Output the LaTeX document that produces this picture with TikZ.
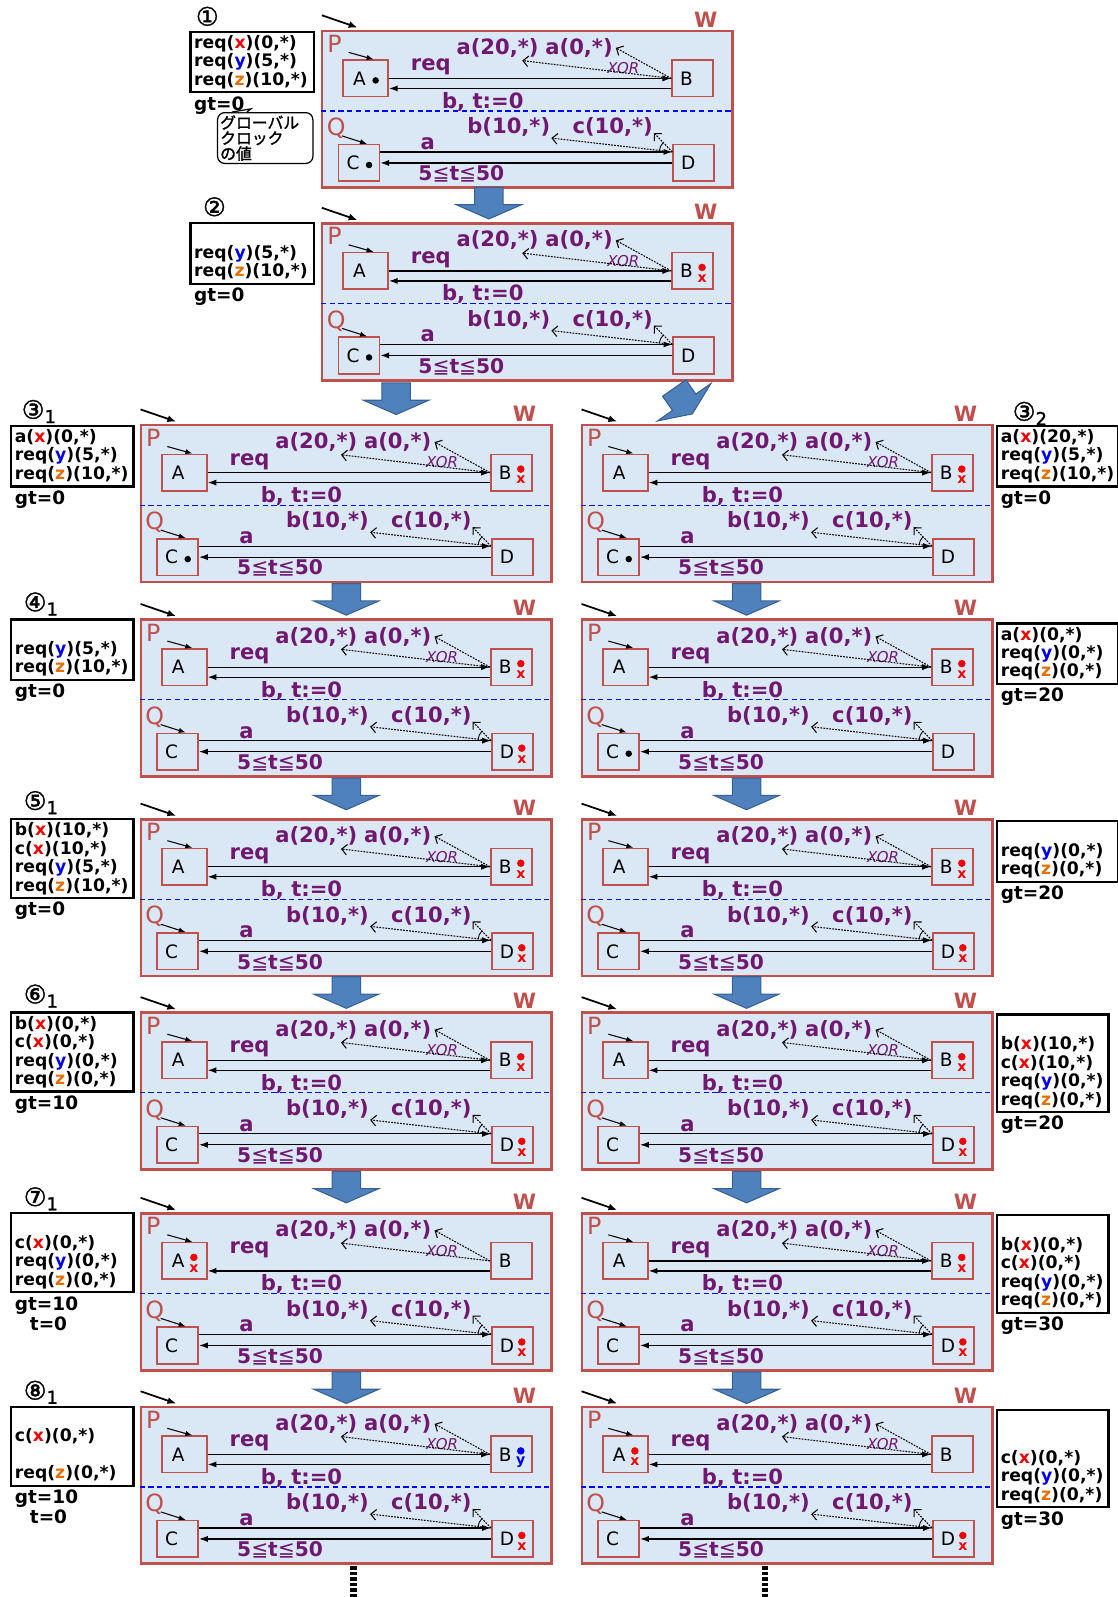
\documentclass[tikz,border=0pt]{standalone}
\usepackage{fontspec}
\setmainfont{DejaVu Sans}
\newfontfamily\cjkfont[FakeBold=1.5]{Noto Sans CJK JP}
\newfontfamily\numfont[FakeBold=1.5]{DejaVu Sans}
\usetikzlibrary{arrows.meta, positioning, calc}

\definecolor{wred}{RGB}{192,80,77}
\definecolor{panelfill}{RGB}{218,231,244}
\definecolor{lblpurple}{RGB}{112,24,112}
\definecolor{arrowblue}{RGB}{79,129,189}
\definecolor{arrowedge}{RGB}{56,96,146}
\definecolor{vx}{RGB}{240,0,0}
\definecolor{vy}{RGB}{0,0,230}
\definecolor{vz}{RGB}{230,110,0}

\newcommand{\vX}{\textcolor{vx}{x}}
\newcommand{\vY}{\textcolor{vy}{y}}
\newcommand{\vZ}{\textcolor{vz}{z}}
\newcommand{\blankln}{\phantom{(}}
\newcommand{\lesq}{{\mdseries ≦}}

% tokens inside a state box
\newcommand{\tokblk}[1]{\fill ([xshift=0.2cm,yshift=-0.04cm]#1.center) circle (0.065cm);}
\newcommand{\tokvar}[3]{%
  \fill[#2] ([xshift=0.19cm,yshift=0.07cm]#1.center) circle (0.075cm);
  \node[toklab, text=#2] (#1t) at ([xshift=0.19cm,yshift=-0.15cm]#1.center) {#3};}
\newcommand{\puttok}[2]{\if#2k\tokblk{#1}\fi\if#2x\tokvar{#1}{vx}{x}\fi\if#2y\tokvar{#1}{vy}{y}\fi}

% one W panel: x, y, name, tokens A B C D, req arrow
\newcommand{\wpanel}[8]{%
  \node[panel] (#3) at (#1,#2) {};
  \begin{scope}[shift={(#1,#2)}]
    % W, P, Q
    \node[wlab] (#3W) at (378,-10) {W};
    \node[pqlab] (#3P) at (13.5,14) {P};
    \node[pqlab] (#3Q) at (15,97) {Q};
    \coordinate (#3e0) at (1,-14);
    \coordinate (#3e1) at (36,-2);
    \draw[entry] (#3e0) -- (#3e1);
    % states
    \node[stbox, minimum width=0.9cm] (#3A) at (44,48) {A};
    \node[stbox] (#3B) at (365,48) {B};
    \node[stbox] (#3C) at (37.5,131) {C};
    \node[stbox] (#3D) at (366,131) {D};
    \coordinate (#3Ai) at ([xshift=0.16cm]#3A.north);
    \coordinate (#3Ao) at ([xshift=-0.5cm,yshift=0.14cm]#3Ai);
    \draw[entrys] (#3Ao) -- (#3Ai);
    \coordinate (#3Ci) at ([xshift=0.16cm]#3C.north);
    \coordinate (#3Co) at ([xshift=-0.5cm,yshift=0.16cm]#3Ci);
    \draw[entrys] (#3Co) -- (#3Ci);
    \draw[qline] (0,80) -- (403,80);
    % labels
    \node[msglab] (#3req) at (108,37) {req};
    \node[msglab] (#3bt) at (159,71) {b, t:=0};
    \node[msglab] (#3a20) at (173.5,18) {a(20,*)};
    \node[msglab] (#3a0) at (253.5,18) {a(0,*)};
    \node[xorlab] (#3xor) at (297,38) {XOR};
    \node[msglab] (#3a) at (105,112) {a};
    \node[msglab] (#3b10) at (184.5,96) {b(10,*)};
    \node[msglab] (#3c10) at (286.5,96) {c(10,*)};
    \node[msglab, font=\bfseries\fontsize{11.5}{12}\selectfont] (#3t) at (138,142) {5\lesq t\lesq 50};
    % P transitions
    \ifnum#8=1 \draw[msg] (#3A.east) -- (#3B.west); \fi
    \draw[msg] ([yshift=-0.2cm]#3B.west) -- ([yshift=-0.2cm]#3A.east);
    \draw[choice] (#3B.west) -- ([xshift=-0.35cm,yshift=-0.04cm]#3a20.south east);
    \draw[choice] (#3B.west) -- ([xshift=0.04cm]#3a0.east);
    % Q transitions
    \coordinate (#3q) at ([yshift=0.22cm]#3D.west);
    \draw[msg] ([yshift=0.22cm]#3C.east) -- (#3q);
    \draw[msg] (#3D.west) -- (#3C.east);
    \draw[choice] (#3q) -- (#3b10.south east);
    \draw[choice] (#3q) -- ([yshift=0.1cm]#3c10.south east);
    \draw[line width=0.5pt] ([shift={(134:0.26cm)}]#3q) arc[start angle=134, end angle=174, radius=0.26cm];
    % tokens
    \puttok{#3A}{#4}\puttok{#3B}{#5}\puttok{#3C}{#6}\puttok{#3D}{#7}
  \end{scope}}

% block arrow between panels
\newcommand{\blkarrow}[3]{%
  \begin{scope}[shift={(#1,#2)}, rotate=#3]
    \filldraw[blk] (-14,0) -- (14,0) -- (14,17) -- (32,17) -- (0,31) -- (-32,17) -- (-14,17) -- cycle;
  \end{scope}}

\begin{document}
\begin{tikzpicture}[x=0.02036cm, y=-0.02036cm,
    panel/.style={draw=wred, line width=1.5pt, fill=panelfill, anchor=north west,
      minimum width=8.205cm, minimum height=3.135cm, inner sep=0},
    wlab/.style={text=wred, font=\bfseries\fontsize{12}{12}\selectfont, inner sep=0},
    pqlab/.style={text=wred, font=\fontsize{13.5}{14}\selectfont, inner sep=0},
    stbox/.style={draw=wred, line width=0.9pt, minimum width=0.82cm, minimum height=0.73cm,
      text width=0.5cm, align=left, inner xsep=0.13cm, inner ysep=0,
      font=\fontsize{10.5}{11}\selectfont},
    msglab/.style={text=lblpurple, font=\bfseries\fontsize{12}{12}\selectfont, inner sep=0.5pt},
    xorlab/.style={text=lblpurple, font=\itshape\fontsize{8.5}{9}\selectfont, inner sep=0},
    toklab/.style={font=\bfseries\fontsize{8}{8}\selectfont, inner sep=0},
    msg/.style={-{Latex[length=5pt,width=3.5pt]}, line width=0.7pt},
    choice/.style={-{Straight Barb[length=3pt,width=6pt]}, line width=0.6pt, dash pattern=on 1pt off 0.7pt},
    qline/.style={blue, line width=0.6pt, dash pattern=on 3pt off 2pt},
    entry/.style={-{Latex[length=5pt,width=4pt]}, line width=1pt},
    entrys/.style={-{Latex[length=4pt,width=3pt]}, line width=0.6pt},
    membox/.style={draw, line width=1.3pt, anchor=north west, align=left, text width=#1,
      inner xsep=2pt, inner ysep=2pt, font=\bfseries\fontsize{9.8}{10.5}\selectfont},
    gtlab/.style={anchor=north west, inner sep=0.5pt, font=\bfseries\fontsize{10.5}{11}\selectfont},
    numlab/.style={anchor=west, inner sep=0, font=\numfont\fontsize{14.5}{15}\selectfont},
    bubble/.style={draw, line width=0.7pt, rounded corners=4pt, fill=white, anchor=north west,
      align=left, text width=1.8cm, inner sep=1.5pt, minimum height=0.86cm,
      font=\cjkfont\fontsize{9}{8.8}\selectfont},
    blk/.style={fill=arrowblue, draw=arrowedge, line width=0.6pt},
    contdots/.style={line width=0.13cm, dash pattern=on 0.07cm off 0.04cm}]
  \useasboundingbox (0,0) rectangle (1097,1568);

  % panels
  \wpanel{315}{29}{p1}{k}{n}{k}{n}{1}
  \wpanel{315}{218}{p2}{n}{x}{k}{n}{1}
  \wpanel{137}{416}{p3l}{n}{x}{k}{n}{1}
  \wpanel{570}{416}{p3r}{n}{x}{k}{n}{1}
  \wpanel{137}{607}{p4l}{n}{x}{n}{x}{1}
  \wpanel{570}{607}{p4r}{n}{x}{k}{n}{1}
  \wpanel{137}{803}{p5l}{n}{x}{n}{x}{1}
  \wpanel{570}{803}{p5r}{n}{x}{n}{x}{1}
  \wpanel{137}{993}{p6l}{n}{x}{n}{x}{1}
  \wpanel{570}{993}{p6r}{n}{x}{n}{x}{1}
  \wpanel{137}{1190}{p7l}{x}{n}{n}{x}{0}
  \wpanel{570}{1190}{p7r}{n}{x}{n}{x}{1}
  \wpanel{137}{1380}{p8l}{n}{y}{n}{x}{1}
  \wpanel{570}{1380}{p8r}{x}{n}{n}{x}{1}

  % block arrows
  \blkarrow{480}{184}{0}
  \blkarrow{389}{376}{0}
  \blkarrow{662}{381}{35}
  \foreach \yy in {573,764,959,1150,1347} {
    \blkarrow{340}{\yy}{0}
    \blkarrow{733}{\yy}{0}
  }

  % step numbers
  \node[numlab] (n1) at (192,16) {①};
  \node[numlab] (n2) at (199,203) {②};
  \node[numlab] (n3l) at (21,404) {③\textsubscript{1}};
  \node[numlab] (n3r) at (994,406) {③\textsubscript{2}};
  \node[numlab] (n4) at (23,593) {④\textsubscript{1}};
  \node[numlab] (n5) at (23,788) {⑤\textsubscript{1}};
  \node[numlab] (n6) at (23,978) {⑥\textsubscript{1}};
  \node[numlab] (n7) at (23,1177) {⑦\textsubscript{1}};
  \node[numlab] (n8) at (23,1367) {⑧\textsubscript{1}};

  % message buffers and global clock
  \node[membox=2.32cm] (m1) at (186,30) {req(\vX)(0,*)\\req(\vY)(5,*)\\req(\vZ)(10,*)};
  \node[gtlab] (g1) at ([xshift=2pt,yshift=-1pt]m1.south west) {gt=0};
  \node[membox=2.32cm] (m2) at (186,218) {\blankln\\req(\vY)(5,*)\\req(\vZ)(10,*)};
  \node[gtlab] (g2) at ([xshift=2pt,yshift=-1pt]m2.south west) {gt=0};
  \node[membox=2.30cm] (m3l) at (10,417) {a(\vX)(0,*)\\req(\vY)(5,*)\\req(\vZ)(10,*)};
  \node[gtlab] (g3l) at ([xshift=2pt,yshift=-1pt]m3l.south west) {gt=0};
  \node[membox=2.28cm] (m3r) at (978,417) {a(\vX)(20,*)\\req(\vY)(5,*)\\req(\vZ)(10,*)};
  \node[gtlab] (g3r) at ([xshift=2pt,yshift=-1pt]m3r.south west) {gt=0};
  \node[membox=2.30cm] (m4l) at (10,607) {\blankln\\req(\vY)(5,*)\\req(\vZ)(10,*)};
  \node[gtlab] (g4l) at ([xshift=2pt,yshift=-1pt]m4l.south west) {gt=0};
  \node[membox=2.28cm] (m4r) at (978,611) {a(\vX)(0,*)\\req(\vY)(0,*)\\req(\vZ)(0,*)};
  \node[gtlab] (g4r) at ([xshift=2pt,yshift=-1pt]m4r.south west) {gt=20};
  \node[membox=2.30cm] (m5l) at (10,803) {b(\vX)(10,*)\\c(\vX)(10,*)\\req(\vY)(5,*)\\req(\vZ)(10,*)};
  \node[gtlab] (g5l) at ([xshift=2pt,yshift=-1pt]m5l.south west) {gt=0};
  \node[membox=2.28cm] (m5r) at (978,805) {\blankln\\req(\vY)(0,*)\\req(\vZ)(0,*)};
  \node[gtlab] (g5r) at ([xshift=2pt,yshift=-1pt]m5r.south west) {gt=20};
  \node[membox=2.30cm] (m6l) at (10,993) {b(\vX)(0,*)\\c(\vX)(0,*)\\req(\vY)(0,*)\\req(\vZ)(0,*)};
  \node[gtlab] (g6l) at ([xshift=2pt,yshift=-1pt]m6l.south west) {gt=10};
  \node[membox=2.08cm] (m6r) at (978,995) {\blankln\\b(\vX)(10,*)\\c(\vX)(10,*)\\req(\vY)(0,*)\\req(\vZ)(0,*)};
  \node[gtlab] (g6r) at ([xshift=2pt,yshift=-1pt]m6r.south west) {gt=20};
  \node[membox=2.30cm] (m7l) at (10,1190) {\blankln\\c(\vX)(0,*)\\req(\vY)(0,*)\\req(\vZ)(0,*)};
  \node[gtlab] (g7l) at ([xshift=2pt,yshift=-1pt]m7l.south west) {gt=10};
  \node[gtlab] (t7l) at ([xshift=0.3cm]g7l.south west) {t=0};
  \node[membox=2.08cm] (m7r) at (978,1192) {\blankln\\b(\vX)(0,*)\\c(\vX)(0,*)\\req(\vY)(0,*)\\req(\vZ)(0,*)};
  \node[gtlab] (g7r) at ([xshift=2pt,yshift=-1pt]m7r.south west) {gt=30};
  \node[membox=2.30cm] (m8l) at (10,1380) {\blankln\\c(\vX)(0,*)\\\blankln\\req(\vZ)(0,*)};
  \node[gtlab] (g8l) at ([xshift=2pt,yshift=-1pt]m8l.south west) {gt=10};
  \node[gtlab] (t8l) at ([xshift=0.3cm]g8l.south west) {t=0};
  \node[membox=2.08cm] (m8r) at (978,1383) {\blankln\\\blankln\\c(\vX)(0,*)\\req(\vY)(0,*)\\req(\vZ)(0,*)};
  \node[gtlab] (g8r) at ([xshift=2pt,yshift=-1pt]m8r.south west) {gt=30};

  % callout for the global clock
  \node[bubble] (bub) at (213,110) {グローバル\\クロック\\の値};
  \coordinate (tail) at ([xshift=3pt,yshift=-2pt]g1.east);
  \filldraw[fill=white, line width=0.7pt] ([xshift=0.3cm]bub.north west) -- (tail) -- ([xshift=0.6cm]bub.north west);

  % continuation marks
  \coordinate (c1a) at (347,1538);
  \coordinate (c1b) at (347,1568);
  \coordinate (c2a) at (751,1538);
  \coordinate (c2b) at (751,1568);
  \draw[contdots] (c1a) -- (c1b);
  \draw[contdots] (c2a) -- (c2b);
\end{tikzpicture}
\end{document}
